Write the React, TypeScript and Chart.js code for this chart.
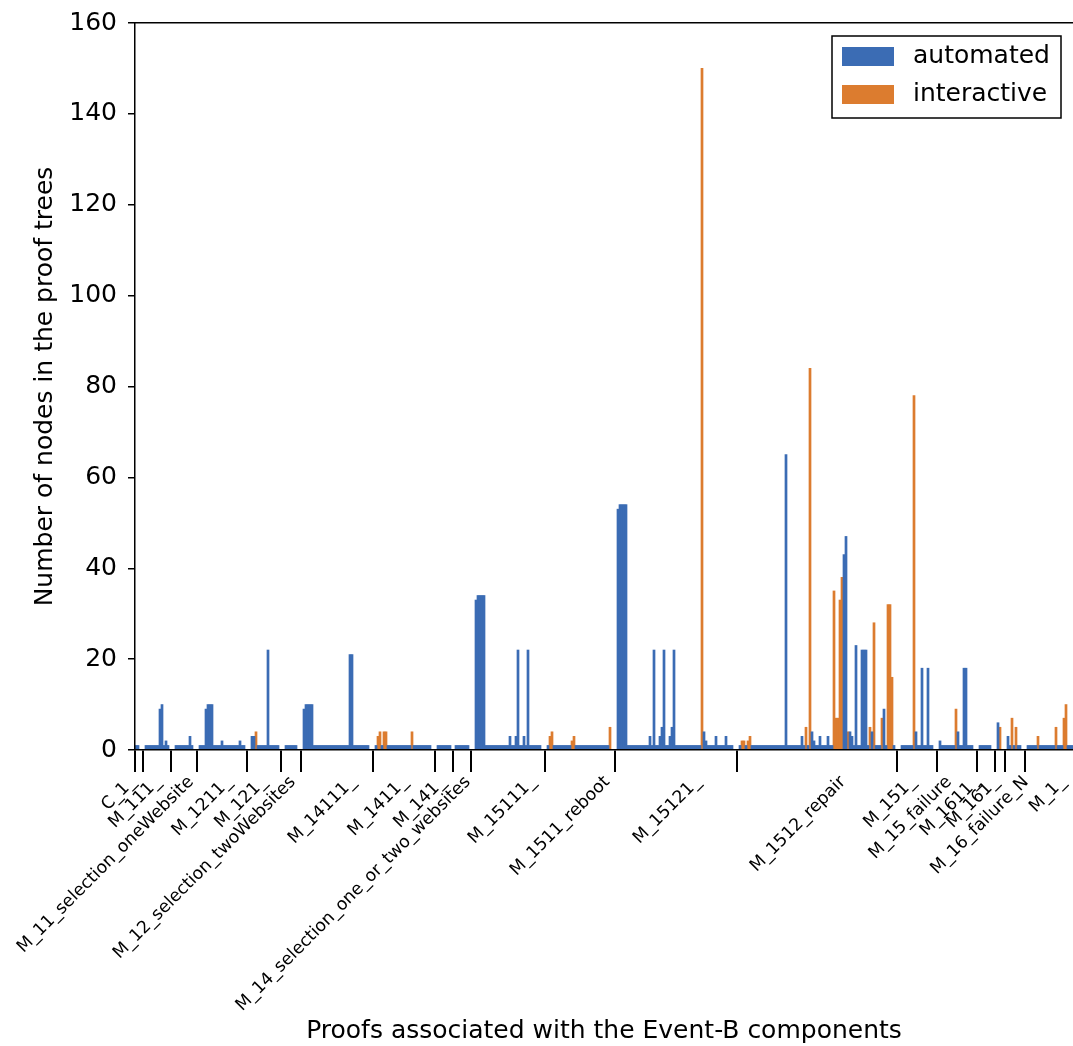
import React, { useEffect, useRef } from "react";
import { Chart, registerables } from "chart.js";

Chart.register(...registerables);

const FONT = "'DejaVu Sans', sans-serif";
const BLUE = "#3b6cb4";
const ORANGE = "#dc7c2f";

// Event-B component groups (x axis)
const groupLabels = [
  "C_1_", "M_111_", "M_11_selection_oneWebsite", "M_1211_", "M_121_",
  "M_12_selection_twoWebsites", "M_14111_", "M_1411_", "M_141_",
  "M_14_selection_one_or_two_websites", "M_15111_", "M_1511_reboot", "M_15121_",
  "M_1512_repair", "M_151_", "M_15_failure", "M_1611_", "M_161_", "M_16_failure_N", "M_1_",
];
// index of the first proof slot of every group (group boundaries)
const groupStarts = [0, 4, 18, 31, 56, 73, 83, 119, 150, 159, 168, 205, 240, 301, 381, 401, 421, 430, 435, 445];
// where each group's label is anchored along the proof axis
const labelPositions = [-1, 11.5, 28, 47, 64.5, 79, 109, 135, 154, 166.5, 199, 236, 281.5, 354, 389, 407, 421, 430.5, 445.5, 464];
const proofCount = 469;
const yTickMax = 160;
const yTickStep = 20;

// number of nodes per proof, automated proofs
const automated = [
  // C_1_
  1, 1, 0, 0,
  // M_111_
  0, 1, 1, 1, 1, 1, 1, 1, 9, 10, 1, 2, 1, 0,
  // M_11_selection_oneWebsite
  0, 0, 1, 1, 1, 1, 1, 1, 1, 3, 1, 0, 0,
  // M_1211_
  0, 1, 1, 1, 9, 10, 10, 10, 1, 1, 1, 1, 2, 1, 1, 1, 1, 1, 1, 1, 1, 2, 1, 1, 0,
  // M_121_
  0, 0, 3, 3, 0, 1, 1, 1, 1, 1, 22, 1, 1, 1, 1, 1, 0,
  // M_12_selection_twoWebsites
  0, 0, 1, 1, 1, 1, 1, 1, 0, 0,
  // M_14111_
  0, 9, 10, 10, 10, 10,
  1, 1, 1, 1, 1, 1, 1, 1, 1, 1, 1, 1, 1, 1, 1, 1, 1, 1,
  21, 21, 1, 1, 1, 1, 1, 1, 1, 1, 0, 0,
  // M_1411_
  0, 1, 0, 0, 1, 0, 0,
  1, 1, 1, 1, 1, 1, 1, 1, 1, 1, 1, 1,
  0, 1, 1, 1, 1, 1, 1, 1, 1, 1, 0, 0,
  // M_141_
  0, 1, 1, 1, 1, 1, 1, 1, 0,
  // M_14_selection_one_or_two_websites
  0, 1, 1, 1, 1, 1, 1, 1, 0,
  // M_15111_
  0, 0, 33, 34, 34, 34, 34,
  1, 1, 1, 1, 1, 1, 1, 1, 1, 1, 1, 1,
  3, 1, 1, 3, 22, 1, 1, 3, 1, 22,
  1, 1, 1, 1, 1, 1, 0, 0,
  // M_1511_reboot
  0, 1, 0, 0,
  1, 1, 1, 1, 1, 1, 1, 1, 1,
  0, 0,
  1, 1, 1, 1, 1, 1, 1, 1, 1, 1, 1, 1, 1, 1, 1, 1, 1,
  0, 0, 0,
  // M_15121_
  0, 53, 54, 54, 54, 54,
  1, 1, 1, 1, 1, 1, 1, 1, 1, 1, 1,
  3, 1, 22, 1, 1, 3, 5, 22, 1, 1, 3, 5, 22,
  1, 1, 1, 1, 1, 1, 1, 1, 1, 1, 1, 1, 1,
  0, 4, 2,
  1, 1, 1, 1, 3, 1, 1, 1, 1, 3, 1, 1, 1,
  0, 0,
  // M_1512_repair
  0, 1, 0, 0, 1, 0, 0,
  1, 1, 1, 1, 1, 1, 1, 1, 1, 1, 1, 1, 1, 1, 1, 1, 1,
  65,
  1, 1, 1, 1, 1, 1, 1,
  3, 1, 0, 1, 0, 4, 2, 1, 1, 3, 1, 1, 1, 3, 1, 1,
  0, 0, 0, 0, 0,
  43, 47, 0,
  4, 3, 1, 23, 1, 1, 22, 22, 22, 1,
  0, 4, 0, 1, 1, 1, 0, 9, 1, 0, 0, 0, 1, 0,
  // M_151_
  0, 0, 1, 1, 1, 1, 1, 1, 0, 4, 1, 1, 18, 1, 1, 18, 1, 1, 0, 0,
  // M_15_failure
  0, 2, 1, 1, 1, 1, 1, 1, 1, 0, 4, 1, 1, 18, 18, 1, 1, 1, 0, 0,
  // M_1611_
  0, 1, 1, 1, 1, 1, 1, 0, 0,
  // M_161_
  0, 6, 0, 0, 0,
  // M_16_failure_N
  0, 3, 1, 0, 1, 0, 1, 1, 0, 0,
  // M_1_
  0, 1, 1, 1, 1, 1, 0, 1, 1, 1, 1, 1, 1, 1, 1, 0, 1, 1, 1, 0, 0, 1, 1, 1,
];

// number of nodes per proof, interactive proofs
const interactive = [
  // C_1_
  0, 0, 0, 0,
  // M_111_
  0, 0, 0, 0, 0, 0, 0, 0, 0, 0, 0, 0, 0, 0,
  // M_11_selection_oneWebsite
  0, 0, 0, 0, 0, 0, 0, 0, 0, 0, 0, 0, 0,
  // M_1211_
  0, 0, 0, 0, 0, 0, 0, 0, 0, 0,
  0, 0, 0, 0, 0, 0, 0, 0, 0, 0,
  0, 0, 0, 0, 0,
  // M_121_
  0, 0, 0, 0, 4, 0, 0, 0, 0, 0, 0, 0, 0, 0, 0, 0, 0,
  // M_12_selection_twoWebsites
  0, 0, 0, 0, 0, 0, 0, 0, 0, 0,
  // M_14111_
  0, 0, 0, 0, 0, 0, 0, 0, 0, 0,
  0, 0, 0, 0, 0, 0, 0, 0, 0, 0,
  0, 0, 0, 0, 0, 0, 0, 0, 0, 0,
  0, 0, 0, 0, 0, 0,
  // M_1411_
  0, 0, 3, 4, 0, 4, 4,
  0, 0, 0, 0, 0, 0, 0, 0, 0, 0, 0, 0,
  4, 0, 0, 0, 0, 0, 0, 0, 0, 0, 0, 0,
  // M_141_
  0, 0, 0, 0, 0, 0, 0, 0, 0,
  // M_14_selection_one_or_two_websites
  0, 0, 0, 0, 0, 0, 0, 0, 0,
  // M_15111_
  0, 0, 0, 0, 0, 0, 0, 0, 0, 0,
  0, 0, 0, 0, 0, 0, 0, 0, 0, 0,
  0, 0, 0, 0, 0, 0, 0, 0, 0, 0,
  0, 0, 0, 0, 0, 0, 0,
  // M_1511_reboot
  0, 0, 3, 4,
  0, 0, 0, 0, 0, 0, 0, 0, 0,
  2, 3,
  0, 0, 0, 0, 0, 0, 0, 0, 0, 0, 0, 0, 0, 0, 0, 0, 0,
  5, 0, 0,
  // M_15121_
  0, 0, 0, 0, 0, 0, 0, 0, 0, 0,
  0, 0, 0, 0, 0, 0, 0, 0, 0, 0,
  0, 0, 0, 0, 0, 0, 0, 0, 0, 0,
  0, 0, 0, 0, 0, 0, 0, 0, 0, 0,
  0, 0, 0,
  150,
  0, 0, 0, 0, 0, 0, 0, 0, 0, 0, 0, 0, 0, 0, 0, 0, 0,
  // M_1512_repair
  0, 0, 2, 2, 0, 2, 3,
  0, 0, 0, 0, 0, 0, 0, 0, 0, 0,
  0, 0, 0, 0, 0, 0, 0, 0, 0, 0,
  0, 0, 0, 0, 0,
  0, 0, 5, 0, 84,
  0, 0, 0, 0, 0, 0, 0, 0, 0, 0, 0,
  35, 7, 7, 33, 38,
  0, 0, 4,
  0, 0, 0, 0, 0, 0, 0, 0, 0, 0,
  5, 0, 28, 0, 0, 0, 7, 0, 0, 32, 32, 16, 0, 0,
  // M_151_
  0, 0, 0, 0, 0, 0, 0, 0, 78, 0, 0, 0, 0, 0, 0, 0, 0, 0, 0, 0,
  // M_15_failure
  0, 0, 0, 0, 0, 0, 0, 0, 0, 9, 0, 0, 0, 0, 0, 0, 0, 0, 0, 0,
  // M_1611_
  0, 0, 0, 0, 0, 0, 0, 0, 0,
  // M_161_
  0, 0, 5, 0, 0,
  // M_16_failure_N
  0, 0, 0, 7, 0, 5, 0, 0, 0, 0,
  // M_1_
  0, 0, 0, 0, 0, 0, 3, 0, 0, 0, 0, 0, 0, 0, 0, 5, 0, 0, 0, 7, 10, 0, 0, 0,
];

const framedLegend = {
  id: "framedLegend",
  afterDraw(chart: any) {
    const { ctx, chartArea } = chart;
    const w = 229;
    const h = 82;
    const x0 = chartArea.right - 12 - w;
    const y0 = chartArea.top + 13;
    ctx.save();
    ctx.fillStyle = "#ffffff";
    ctx.fillRect(x0, y0, w, h);
    ctx.strokeStyle = "#000000";
    ctx.lineWidth = 1.5;
    ctx.strokeRect(x0, y0, w, h);
    ctx.font = `25px ${FONT}`;
    ctx.textBaseline = "middle";
    ctx.textAlign = "left";
    chart.data.datasets.forEach((ds: any, i: number) => {
      const cy = y0 + 20.5 + i * 38;
      ctx.fillStyle = ds.backgroundColor;
      ctx.fillRect(x0 + 10, cy - 9.5, 52, 19);
      ctx.fillStyle = "#000000";
      ctx.fillText(ds.label, x0 + 81, cy);
    });
    ctx.restore();
  },
};

export default function App() {
  const ref = useRef<HTMLCanvasElement>(null);

  useEffect(() => {
    if (!ref.current) return;
    const toPoints = (arr: number[]) => arr.map((v, i) => ({ x: i + 0.5, y: v }));
    const barCommon = {
      barPercentage: 1,
      categoryPercentage: 1,
      grouped: false,
      borderWidth: 0,
      inflateAmount: 0.35,
      xAxisID: "x",
      yAxisID: "y",
    };
    const chart = new Chart(ref.current, {
      type: "bar",
      data: {
        datasets: [
          { ...barCommon, label: "automated", data: toPoints(automated), backgroundColor: BLUE } as any,
          { ...barCommon, label: "interactive", data: toPoints(interactive), backgroundColor: ORANGE } as any,
        ],
      },
      options: {
        animation: false,
        responsive: false,
        events: [],
        layout: { padding: 0 },
        plugins: { legend: { display: false }, tooltip: { enabled: false } },
        scales: {
          x: {
            type: "linear",
            position: "bottom",
            weight: 0,
            min: 0,
            max: proofCount,
            bounds: "data",
            offset: false,
            grid: {
              display: true,
              drawOnChartArea: false,
              drawTicks: true,
              tickLength: 22,
              color: "#000000",
              lineWidth: 2,
              offset: false,
            },
            border: { display: true, color: "#000000", width: 1.5, z: 1 },
            ticks: { display: false, autoSkip: false },
            afterBuildTicks: (s: any) => {
              s.ticks = groupStarts.map((v) => ({ value: v }));
            },
            afterFit: (s: any) => {
              s.height = 14;
              s.paddingLeft = 0;
              s.paddingRight = 0;
            },
          },
          xl: {
            type: "linear",
            axis: "x",
            position: "bottom",
            weight: 1,
            min: 0,
            max: proofCount,
            bounds: "data",
            offset: false,
            grid: { display: false, offset: false },
            border: { display: false },
            ticks: {
              display: true,
              autoSkip: false,
              minRotation: 45,
              maxRotation: 45,
              padding: 0,
              color: "#000000",
              font: { family: FONT, size: 17.3 },
              callback: (_v: any, i: number) => groupLabels[i],
            },
            title: {
              display: true,
              text: "Proofs associated with the Event-B components",
              color: "#000000",
              font: { family: FONT, size: 25, lineHeight: 1 },
              padding: { top: 0, bottom: 2 },
            },
            afterBuildTicks: (s: any) => {
              s.ticks = labelPositions.map((v) => ({ value: v }));
            },
            afterFit: (s: any) => {
              s.height = 282;
              s.paddingLeft = 0;
              s.paddingRight = 0;
            },
          },
          xt: {
            type: "linear",
            axis: "x",
            position: "top",
            min: 0,
            max: proofCount,
            bounds: "data",
            offset: false,
            grid: { display: false, offset: false },
            border: { display: true, color: "#000000", width: 1.5, z: 1 },
            ticks: { display: false },
            afterFit: (s: any) => {
              s.height = 23;
              s.paddingLeft = 0;
              s.paddingRight = 0;
            },
          },
          y: {
            type: "linear",
            position: "left",
            min: 0,
            max: yTickMax,
            bounds: "data",
            grid: {
              display: true,
              drawOnChartArea: false,
              drawTicks: true,
              tickLength: 7,
              color: "#000000",
              lineWidth: 1.5,
            },
            border: { display: true, color: "#000000", width: 1.5, z: 1 },
            ticks: {
              stepSize: yTickStep,
              padding: 11,
              color: "#000000",
              font: { family: FONT, size: 25 },
            },
            title: {
              display: true,
              text: "Number of nodes in the proof trees",
              color: "#000000",
              font: { family: FONT, size: 25, lineHeight: 1 },
              padding: { top: 33, bottom: 0 },
            },
            afterFit: (s: any) => {
              s.width = 135;
              s.paddingTop = 0;
              s.paddingBottom = 0;
            },
          },
        },
      } as any,
      plugins: [framedLegend],
    });
    return () => chart.destroy();
  }, []);

  return (
    <div style={{ position: "absolute", left: 0, top: 0, width: 1073, height: 1046, background: "#ffffff" }}>
      <canvas ref={ref} width={1073} height={1046} style={{ display: "block", width: 1073, height: 1046 }} />
    </div>
  );
}
